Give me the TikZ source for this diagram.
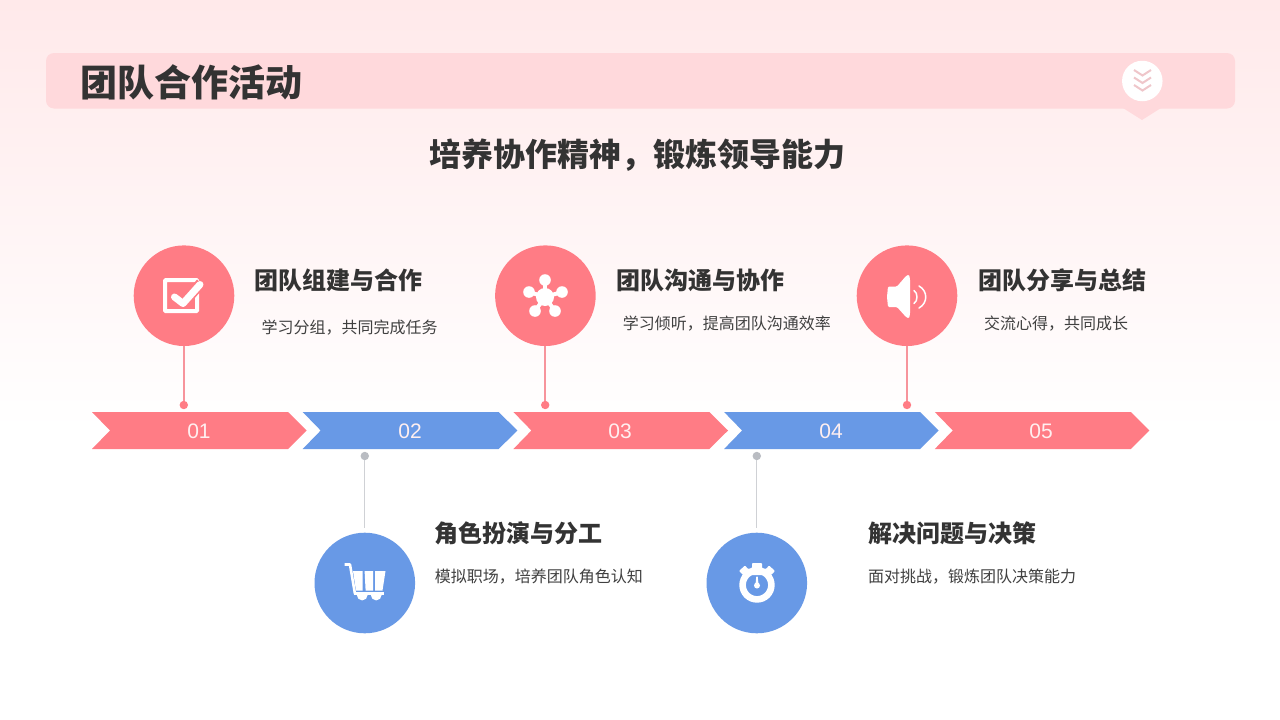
\documentclass[tikz,border=0pt]{standalone}
\usepackage{fontspec}
\setmainfont{Liberation Sans}
\newfontfamily\cjk{Noto Sans CJK SC}
\definecolor{pinkc}{HTML}{FF7C85}
\definecolor{bluec}{HTML}{6899E6}
\definecolor{barc}{HTML}{FFD9DC}
\definecolor{topbg}{HTML}{FFE9EA}
\definecolor{inkc}{HTML}{333333}
\definecolor{descc}{HTML}{404040}
\definecolor{chevc}{HTML}{EFC6CA}
\definecolor{pinkline}{HTML}{F7949C}
\definecolor{greyline}{HTML}{CFD1D5}
\definecolor{greydot}{HTML}{B9BCC2}
\tikzset{
  x=1pt,y=-1pt,
  titletext/.style={inner sep=0pt,anchor=west,text=inkc,font=\cjk\bfseries\fontsize{37}{37}\selectfont},
  subtext/.style={inner sep=0pt,text=inkc,font=\cjk\bfseries\fontsize{32}{32}\selectfont},
  headtext/.style={inner sep=0pt,anchor=west,text=inkc,font=\cjk\bfseries\fontsize{24}{24}\selectfont},
  desctext/.style={inner sep=0pt,anchor=west,text=descc,font=\cjk\fontsize{16}{16}\selectfont},
  numtext/.style={inner sep=0pt,text=white!88!pinkc,font=\fontsize{21}{21}\selectfont},
  bigdisc/.style={circle,minimum size=100.6pt,inner sep=0pt,fill=#1},
  pindot/.style={circle,minimum size=8.4pt,inner sep=0pt,fill=#1},
  pinline/.style={draw=#1,line width=0.95pt},
  pinkpin/.style={draw=pinkline,line width=1.6pt},
  iconline/.style={draw=white,line cap=round,line join=round},
}
\newcommand{\chevronat}[2]{%
  \fill[#2] (#1,412) -- ++(196,0) -- ++(18.6,18.5) -- ++(-18.6,18.5) -- ++(-196,0) -- ++(18,-18.5) -- cycle;}
\begin{document}
\begin{tikzpicture}
\useasboundingbox (0,0) rectangle (1280,720);
\fill[white] (0,0) rectangle (1280,720);
\shade[top color=topbg,bottom color=white,shading angle=0] (0,0) rectangle (1280,430);

% header bar
\fill[barc,rounded corners=8pt] (46,53) rectangle (1235,108.5);
\fill[barc] (1123,108) -- (1142,120) -- (1161,108) -- cycle;
\node[circle,fill=white,minimum size=40.5pt,inner sep=0pt] (badge) at (1142.3,81) {};
\foreach \yy in {70,77.5,85}
  \draw[chevc,line width=2pt] (1134,\yy) -- (1142.5,\yy+5.5) -- (1151,\yy);
\node[titletext] (title) at (80.2,82) {团队合作活动};
\node[subtext] (subtitle) at (637.2,155) {培养协作精神，锻炼领导能力};

% chevrons
\chevronat{92}{pinkc}
\chevronat{302.7}{bluec}
\chevronat{513.4}{pinkc}
\chevronat{724.1}{bluec}
\chevronat{934.8}{pinkc}
\node[numtext] (n1) at (199,431) {01};
\node[numtext] (n2) at (410,431) {02};
\node[numtext] (n3) at (620,431) {03};
\node[numtext] (n4) at (831,431) {04};
\node[numtext] (n5) at (1041,431) {05};

% discs
\node[bigdisc=pinkc] (d1) at (184,295.7) {};
\node[bigdisc=pinkc] (d3) at (545.4,295.7) {};
\node[bigdisc=pinkc] (d5) at (907,295.7) {};
\node[bigdisc=bluec] (d2) at (364.8,583) {};
\node[bigdisc=bluec] (d4) at (756.8,583) {};

% pins
\node[pindot=pinkc] (p1) at (183.8,405) {};
\node[pindot=pinkc] (p3) at (545.2,405) {};
\node[pindot=pinkc] (p5) at (907,405) {};
\node[pindot=greydot] (p2) at (364.8,456) {};
\node[pindot=greydot] (p4) at (756.8,456) {};
\coordinate (e2) at (364.8,528);
\coordinate (e4) at (756.8,528);
\draw[pinkpin] (d1.south -| p1) -- (p1);
\draw[pinkpin] (d3.south -| p3) -- (p3);
\draw[pinkpin] (d5.south -| p5) -- (p5);
\draw[pinline=greyline] (p2) -- (e2);
\draw[pinline=greyline] (p4) -- (e4);

% text
\node[headtext] (h1) at (254.6,280) {团队组建与合作};
\node[desctext] (t1) at (261.4,327.6) {学习分组，共同完成任务};
\node[headtext] (h3) at (616.4,280) {团队沟通与协作};
\node[desctext] (t3) at (622.6,323.6) {学习倾听，提高团队沟通效率};
\node[headtext] (h5) at (978,280) {团队分享与总结};
\node[desctext] (t5) at (984,323.6) {交流心得，共同成长};
\node[headtext] (h2) at (434.4,533) {角色扮演与分工};
\node[desctext] (t2) at (434.6,576.6) {模拟职场，培养团队角色认知};
\node[headtext] (h4) at (868,533) {解决问题与决策};
\node[desctext] (t4) at (868,576.6) {面对挑战，锻炼团队决策能力};

% icon: check box
\draw[white,line width=4pt,rounded corners=1pt] (165,280) rectangle (197.2,311.2);
\draw[pinkc,line width=10.5pt,line join=round] (174,297) -- (183,303.5) -- (201,283);
\draw[iconline,line width=7pt] (174.5,297) -- (183,303.5) -- (200,284.5);

% icon: network
\fill[white] (545,297) circle (9);
\foreach \a/\b in {545/280,529/292,562/292,535/311,555/311}{
  \fill[white] (\a,\b) circle (5.8);
  \draw[white,line width=4pt] (545,297) -- (\a,\b);
}

% icon: speaker
\fill[white,rounded corners=1.2pt] (888,286.5) -- (897,286.5) -- (906,276) -- (909,274.5) -- (910,279) -- (910,314) -- (909,318.5) -- (906,317) -- (897,307) -- (888,307) -- (887,297) -- cycle;
\draw[iconline,line width=1.5pt] (914,290.5) .. controls (918,293) and (918,301) .. (914,303.5);
\draw[iconline,line width=1.5pt] (919,286) .. controls (928,291) and (928,303) .. (919,308);

% icon: cart
\draw[white,line width=2.6pt,line join=round] (344.5,564.5) -- (350,564.5) -- (355,594);
\fill[white] (354,592.2) -- (383.5,592.2) -- (383.5,595.4) -- (354,595.4) -- cycle;
\fill[white] (353,571) -- (362.5,571) -- (362.5,590.5) -- (356,590.5) -- cycle;
\fill[white] (364.6,571) -- (373.2,571) -- (373.2,590.5) -- (365.6,590.5) -- cycle;
\fill[white] (375.2,571) -- (385.5,571) -- (382.5,590.5) -- (375.2,590.5) -- cycle;
\fill[white] (356.8,595) arc[start angle=180,end angle=0,radius=5.4] -- cycle;
\fill[white] (370.8,595) arc[start angle=180,end angle=0,radius=5.4] -- cycle;

% icon: stopwatch
\draw[white,line width=6.6pt] (757,585) circle (14.4);
\fill[white,rounded corners=0.8pt] (752,563) -- (762,563) -- (762,568) -- (766,569) -- (769,565.5) -- (775,571) -- (771,575) -- (743,575) -- (739,571) -- (745,565.5) -- (748,569) -- (752,568) -- cycle;
\fill[white] (757,585.5) circle (3);
\fill[white] (755.4,585) -- (756.3,576.5) -- (757.7,576.5) -- (758.6,585) -- cycle;
\end{tikzpicture}
\end{document}
